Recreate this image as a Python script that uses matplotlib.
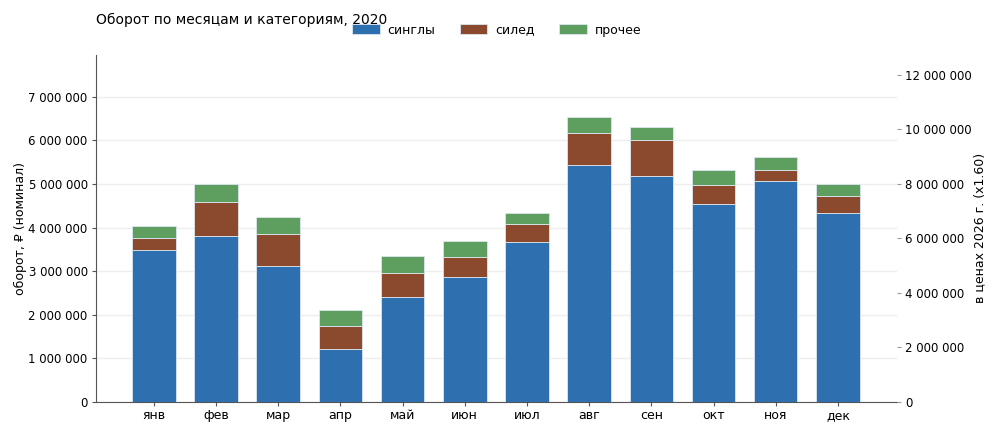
import matplotlib.pyplot as plt
from matplotlib.ticker import FuncFormatter, MultipleLocator

months = ["янв", "фев", "мар", "апр", "май", "июн", "июл", "авг", "сен", "окт", "ноя", "дек"]
singles = [3490000, 3810000, 3120000, 1210000, 2400000, 2860000, 3670000, 5430000, 5180000, 4550000, 5065000, 4330000]
siled = [267000, 765000, 736000, 527000, 560000, 475000, 415000, 735000, 820000, 430000, 260000, 390000]
other = [283000, 420000, 394000, 359000, 390000, 360000, 245000, 365000, 300000, 330000, 305000, 280000]
factor = 1.60

colors = ["#2e6fb0", "#8b4a2e", "#5e9e5e"]


def fmt(v, pos):
    return f"{int(round(v)):,}".replace(",", " ")


fig = plt.figure(figsize=(10, 4.33), dpi=100)
ax = fig.add_axes([0.096, 0.072, 0.801, 0.801])

x = list(range(len(months)))
bottom2 = [a + b for a, b in zip(singles, siled)]
kw = dict(width=0.7, edgecolor="#dce6f0", linewidth=0.6, zorder=3)
ax.bar(x, singles, color=colors[0], label="синглы", **kw)
ax.bar(x, siled, bottom=singles, color=colors[1], label="силед", **kw)
ax.bar(x, other, bottom=bottom2, color=colors[2], label="прочее", **kw)

ax.set_xlim(-0.93, 11.95)
ax.set_ylim(0, 7960000)
ax.set_xticks(x)
ax.set_xticklabels(months, fontsize=9)
ax.yaxis.set_major_locator(MultipleLocator(1000000))
ax.yaxis.set_major_formatter(FuncFormatter(fmt))
ax.tick_params(axis="y", labelsize=8.5, color="#555555", length=3, pad=3)
ax.tick_params(axis="x", color="#555555", length=3, pad=2.5)
ax.grid(axis="y", color="#eeeeee", linewidth=1, zorder=0)
ax.set_axisbelow(True)
for s in ["top", "right"]:
    ax.spines[s].set_visible(False)
for s in ["left", "bottom"]:
    ax.spines[s].set_color("#555555")
ax.set_ylabel("оборот, ₽ (номинал)", fontsize=9, labelpad=1)

ax2 = ax.twinx()
ax2.set_ylim(0, 7960000 * factor)
ax2.yaxis.set_major_locator(MultipleLocator(2000000))
ax2.yaxis.set_major_formatter(FuncFormatter(fmt))
ax2.tick_params(axis="y", labelsize=8.5, color="#999999", length=3, pad=3)
for s in ax2.spines.values():
    s.set_visible(False)
ax2.set_ylabel("в ценах 2026 г. (x1.60)", fontsize=9, labelpad=1)

fig.text(0.096, 0.955, "Оборот по месяцам и категориям, 2020", fontsize=10, va="center")
ax.legend(loc="center", bbox_to_anchor=(0.5, 1.072), ncol=3, frameon=False,
          fontsize=9, columnspacing=2.0, handlelength=2.2, handleheight=0.8,
          handletextpad=0.6)

fig.savefig("out.png", dpi=100)
